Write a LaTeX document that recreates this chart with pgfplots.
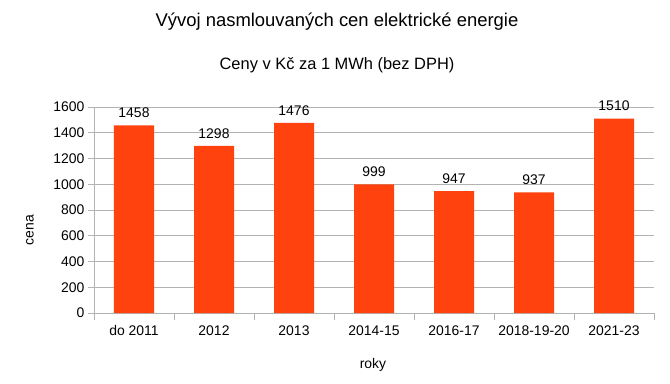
\documentclass[border=0pt]{standalone}
\usepackage{pgfplots}
\pgfplotsset{compat=1.18}
\usepackage{fontspec}
\setmainfont{Liberation Sans}
\definecolor{barc}{HTML}{FF420E}
\definecolor{gridc}{HTML}{B3B3B3}
\begin{document}
\begin{tikzpicture}[x=1bp,y=1bp]
\useasboundingbox (-94,-70) rectangle (576,313);
\begin{axis}[
  at={(0,0)}, anchor=south west,
  scale only axis, width=560bp, height=206bp,
  xmin=-0.5, xmax=6.5, ymin=0, ymax=1600,
  ytick={0,200,...,1600},
  xtick={0,...,6},
  xticklabels={do 2011,2012,2013,2014-15,2016-17,2018-19-20,2021-23},
  minor xtick={-0.5,0.5,...,6.5},
  major x tick style={draw=none},
  minor x tick style={gridc, thick},
  axis x line*=bottom, axis y line*=left,
  axis line style={gridc, thick, -},
  ymajorgrids, grid style={gridc, thick},
  ytick style={gridc, thick},
  tick align=outside,
  major tick length=6bp, minor tick length=7bp,
  tick label style={font=\fontsize{14}{16}\selectfont},
  xticklabel style={yshift=-3bp},
  /pgf/number format/assume math mode=true,
  /pgf/number format/1000 sep={},
  ybar, bar width=0.5,
  nodes near coords,
  nodes near coords style={font=\fontsize{14}{16}\selectfont, black, yshift=4bp},
  clip=false,
]
\addplot[fill=barc, draw=none] coordinates {(0,1458) (1,1298) (2,1476) (3,999) (4,947) (5,937) (6,1510)};
\end{axis}
\node at (243,291) {\fontsize{18.5}{20}\selectfont Vývoj nasmlouvaných cen elektrické energie};
\node at (243,248) {\fontsize{16.5}{18}\selectfont Ceny v Kč za 1 MWh (bez DPH)};
\node[rotate=90] at (-64,83) {\fontsize{14}{16}\selectfont cena};
\node at (279,-52) {\fontsize{14}{16}\selectfont roky};
\end{tikzpicture}
\end{document}
